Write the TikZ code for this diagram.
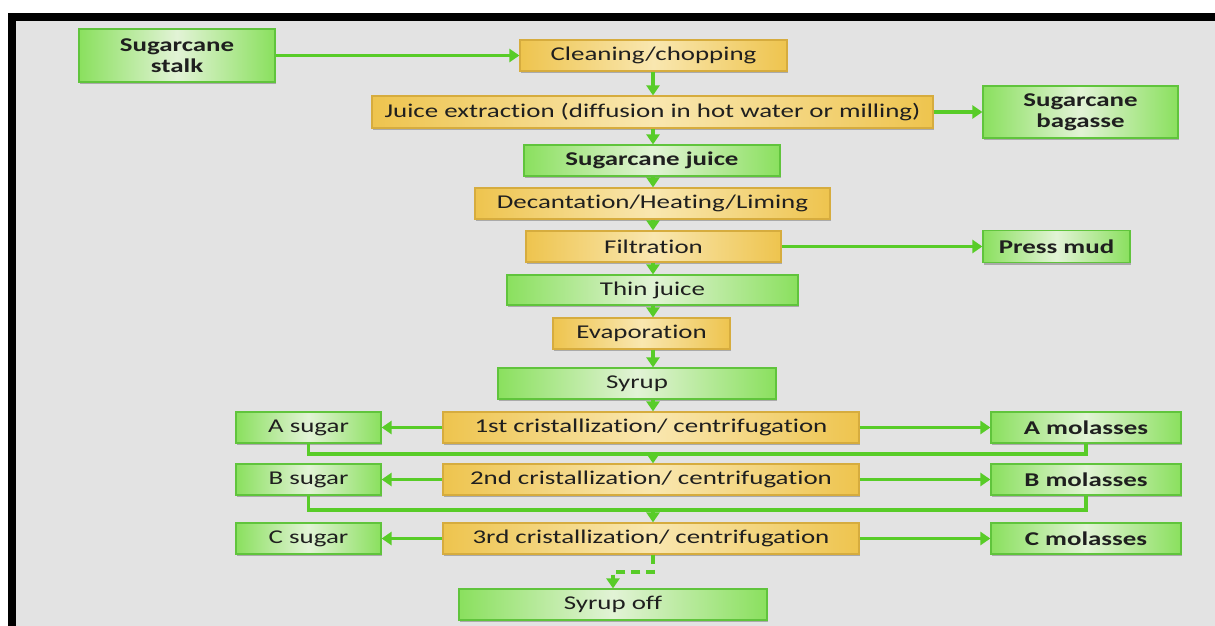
\documentclass[tikz,border=0pt]{standalone}
\usepackage{fontspec}
\setmainfont{Carlito}[FakeStretch=1.38,Ligatures=NoCommon]
\usetikzlibrary{arrows.meta,shadows}

\definecolor{linegreen}{RGB}{88,204,40}
\definecolor{boxgreen}{RGB}{138,224,94}
\definecolor{palegreen}{RGB}{226,243,214}
\definecolor{edgegreen}{RGB}{96,196,60}
\definecolor{boxgold}{RGB}{238,196,78}
\definecolor{palegold}{RGB}{249,231,176}
\definecolor{edgegold}{RGB}{214,172,62}
\definecolor{panel}{RGB}{227,227,227}

\tikzset{
  box/.style={draw, line width=1.2pt, inner sep=0pt, align=center,
    font=\fontsize{19.5}{21}\selectfont, text=black!88,
    drop shadow={shadow xshift=1pt,shadow yshift=-2pt,fill=black!60,opacity=0.45}},
  greenbox/.style={box, draw=edgegreen, left color=boxgreen, right color=boxgreen, middle color=palegreen},
  goldbox/.style={box, draw=edgegold, left color=boxgold, right color=boxgold, middle color=palegold},
  flow/.style={draw=linegreen, line width=3.5pt},
  tip/.style={-{Triangle[width=13pt,length=10pt]}},
}

\begin{document}
\begin{tikzpicture}[x=1pt,y=-1pt]
\useasboundingbox (0,0) rectangle (1215,626);
\fill[white] (0,0) rectangle (1215,626);
\fill[panel] (8,13) rectangle (1215,626);
\fill[black] (8,13) rectangle (1215,21);
\fill[black] (8,13) rectangle (16,626);

\coordinate (axis) at (653,0);

\node[greenbox, minimum width=196pt, minimum height=53pt] (stalk) at (177,55.5) {\bfseries Sugarcane\\\bfseries stalk};
\node[goldbox, minimum width=267pt, minimum height=31pt] (clean) at (653.5,55.5) {Cleaning/chopping};
\node[goldbox, minimum width=561pt, minimum height=32pt] (extract) at (652.5,112) {Juice extraction (diffusion in hot water or milling)};
\node[greenbox, minimum width=195pt, minimum height=52pt] (bagasse) at (1080.5,112) {\bfseries Sugarcane\\\bfseries bagasse};
\node[greenbox, minimum width=256pt, minimum height=31pt] (juice) at (652,160.5) {\bfseries Sugarcane juice};
\node[goldbox, minimum width=355pt, minimum height=31pt] (decant) at (652.5,203.5) {Decantation/Heating/Liming};
\node[goldbox, minimum width=255pt, minimum height=31pt] (filter) at (653.5,246.5) {Filtration};
\node[greenbox, minimum width=147pt, minimum height=32pt] (mud) at (1056.5,246.5) {\bfseries Press mud};
\node[greenbox, minimum width=291pt, minimum height=30pt] (thin) at (652.5,290) {Thin juice};
\node[goldbox, minimum width=177pt, minimum height=31pt] (evap) at (641.5,333.5) {Evaporation};
\node[greenbox, minimum width=278pt, minimum height=31pt] (syrup) at (637,383.5) {Syrup};

\node[goldbox, minimum width=416pt, minimum height=31pt] (cr1) at (651,427.5) {1st cristallization/ centrifugation};
\node[goldbox, minimum width=416pt, minimum height=31pt] (cr2) at (651,479.5) {2nd cristallization/ centrifugation};
\node[goldbox, minimum width=416pt, minimum height=31pt] (cr3) at (651,538.5) {3rd cristallization/ centrifugation};

\node[greenbox, minimum width=145pt, minimum height=31pt] (asugar) at (308.5,427.5) {A sugar};
\node[greenbox, minimum width=145pt, minimum height=31pt] (bsugar) at (308.5,479.5) {B sugar};
\node[greenbox, minimum width=145pt, minimum height=31pt] (csugar) at (308.5,538.5) {C sugar};

\node[greenbox, minimum width=190pt, minimum height=31pt] (amol) at (1086,427.5) {\bfseries A molasses};
\node[greenbox, minimum width=190pt, minimum height=31pt] (bmol) at (1086,479.5) {\bfseries B molasses};
\node[greenbox, minimum width=190pt, minimum height=31pt] (cmol) at (1086,538.5) {\bfseries C molasses};

\node[greenbox, minimum width=308pt, minimum height=31pt] (syrupoff) at (613,604.5) {Syrup off};

% main line
\draw[flow,tip] (stalk.east) -- (clean.west);
\draw[flow,tip] (clean.south -| axis) -- (extract.north -| axis);
\draw[flow,tip] (extract.east) -- (bagasse.west);
\draw[flow,tip] (extract.south -| axis) -- (juice.north -| axis);
\draw[flow,tip] (juice.south -| axis) -- (decant.north -| axis);
\draw[flow,tip] (decant.south -| axis) -- (filter.north -| axis);
\draw[flow,tip] (filter.east) -- (mud.west);
\draw[flow,tip] (filter.south -| axis) -- (thin.north -| axis);
\draw[flow,tip] (thin.south -| axis) -- (evap.north -| axis);
\draw[flow,tip] (evap.south -| axis) -- (syrup.north -| axis);
\draw[flow,tip] (syrup.south -| axis) -- (cr1.north -| axis);

% crystallization steps
\draw[flow,tip] (cr1.west) -- (asugar.east);
\draw[flow,tip] (cr1.east) -- (amol.west);
\draw[flow,tip] (cr2.west) -- (bsugar.east);
\draw[flow,tip] (cr2.east) -- (bmol.west);
\draw[flow,tip] (cr3.west) -- (csugar.east);
\draw[flow,tip] (cr3.east) -- (cmol.west);

\coordinate (mergeA) at (653,454);
\coordinate (mergeB) at (653,510);
\draw[flow] (asugar.south) |- (mergeA) -| (amol.south);
\draw[flow] (bsugar.south) |- (mergeB) -| (bmol.south);
\draw[flow,tip] (mergeA) -- (cr2.north -| axis);
\draw[flow,tip] (mergeB) -- (cr3.north -| axis);

\coordinate (bend) at (653,572);
\draw[flow,tip,dash pattern=on 9pt off 6pt] (cr3.south -| axis) -- (bend) -| (syrupoff.north);
\end{tikzpicture}
\end{document}
